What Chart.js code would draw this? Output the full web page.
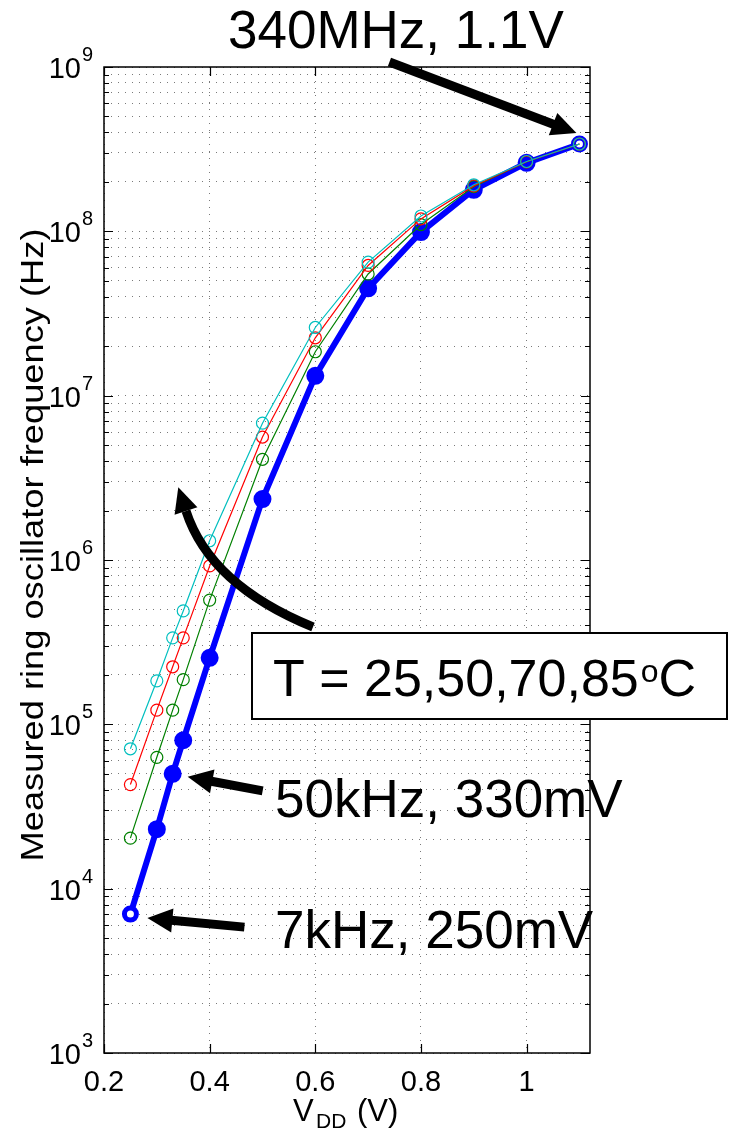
<!DOCTYPE html>
<html>
<head>
<meta charset="utf-8">
<script src="https://cdn.jsdelivr.net/npm/chart.js@4/dist/chart.umd.min.js"></script>
<style>
  html,body{margin:0;padding:0;background:#fff;}
  canvas{display:block;}
</style>
</head>
<body>
<canvas id="c" width="734" height="1131"></canvas>
<script>
/* ---- data ------------------------------------------------------------ */
const VDD = [0.25, 0.30, 0.33, 0.35, 0.40, 0.50, 0.60, 0.70, 0.80, 0.90, 1.00, 1.10];

// measured ring oscillator frequency, Hz
const FREQ_25C = [7.0e3, 2.3e4, 5.0e4, 8.0e4, 2.54e5, 2.35e6, 1.32e7, 4.5e7, 9.9e7, 1.79e8, 2.61e8, 3.4e8];
const FREQ_50C = [2.03e4, 6.3e4, 1.22e5, 1.87e5, 5.7e5, 4.1e6, 1.85e7, 5.5e7, 1.10e8, 1.87e8, 2.65e8, 3.4e8];
const FREQ_70C = [4.3e4, 1.22e5, 2.24e5, 3.36e5, 9.2e5, 5.6e6, 2.25e7, 6.2e7, 1.19e8, 1.89e8, 2.65e8, 3.4e8];
const FREQ_85C = [7.1e4, 1.84e5, 3.36e5, 4.9e5, 1.31e6, 6.8e6, 2.6e7, 6.5e7, 1.24e8, 1.92e8, 2.66e8, 3.4e8];

const X_TICKS = [0.2, 0.4, 0.6, 0.8, 1.0];
const X_TICK_LABELS = ["0.2", "0.4", "0.6", "0.8", "1"];
const Y_EXPONENTS = [3, 4, 5, 6, 7, 8, 9];
const Y_MINOR_STEPS = [2, 3, 4, 5, 6, 7, 8, 9];

const BLUE = "#0000ff", GREEN = "#008000", RED = "#ff0000", CYAN = "#00bfbf";
const FONT = "'Liberation Sans', Arial, sans-serif";

/* ---- helpers --------------------------------------------------------- */
const pts = ys => VDD.map((v, i) => ({x: v, y: ys[i]}));

function yTicks(){
  const t = [];
  Y_EXPONENTS.forEach((e, i) => {
    t.push({value: Math.pow(10, e), major: true});
    if(i < Y_EXPONENTS.length - 1)
      Y_MINOR_STEPS.forEach(m => t.push({value: m * Math.pow(10, e), major: false}));
  });
  return t;
}

function thin(color, ys, order){
  return {
    data: pts(ys), borderColor: color, borderWidth: 1.2,
    pointRadius: 6, pointBorderWidth: 1.2, pointBorderColor: color,
    pointBackgroundColor: "rgba(0,0,0,0)", tension: 0, order
  };
}

// first/last blue markers are rings, the rest are filled dots
const blueFill = VDD.map((v, i) => (i === 0 || i === VDD.length - 1) ? "#ffffff" : BLUE);
const blueRad  = VDD.map((v, i) => (i === 0 || i === VDD.length - 1) ? 6 : 7);
const blueBw   = VDD.map((v, i) => (i === 0 || i === VDD.length - 1) ? 5 : 4);

function arrow(ctx, x0, y0, x1, y1){
  const a = Math.atan2(y1 - y0, x1 - x0), L = 25, W = 12;
  const bx = x1 - L*Math.cos(a), by = y1 - L*Math.sin(a);
  ctx.lineWidth = 9;
  ctx.beginPath(); ctx.moveTo(x0, y0); ctx.lineTo(bx + Math.cos(a), by + Math.sin(a)); ctx.stroke();
  ctx.beginPath();
  ctx.moveTo(x1, y1);
  ctx.lineTo(bx + W*Math.sin(a), by - W*Math.cos(a));
  ctx.lineTo(bx - W*Math.sin(a), by + W*Math.cos(a));
  ctx.closePath(); ctx.fill();
}

function curvedArrow(ctx, x0, y0, cx, cy, x1, y1){
  const a = Math.atan2(y1 - cy, x1 - cx), L = 25, W = 12;
  const tx = x1 + L*Math.cos(a), ty = y1 + L*Math.sin(a);
  ctx.lineWidth = 9;
  ctx.beginPath(); ctx.moveTo(x0, y0); ctx.quadraticCurveTo(cx, cy, x1, y1); ctx.stroke();
  ctx.beginPath();
  ctx.moveTo(tx, ty);
  ctx.lineTo(x1 + W*Math.sin(a), y1 - W*Math.cos(a));
  ctx.lineTo(x1 - W*Math.sin(a), y1 + W*Math.cos(a));
  ctx.closePath(); ctx.fill();
}

/* ---- frame, tick marks, labels, annotations -------------------------- */
const figureText = {
  id: "figureText",
  afterDraw(chart){
    const ctx = chart.ctx, ca = chart.chartArea;
    const xs = chart.scales.x, ys = chart.scales.y;
    ctx.save();
    ctx.strokeStyle = "#000"; ctx.fillStyle = "#000";

    // box
    ctx.lineWidth = 1.5;
    ctx.strokeRect(ca.left, ca.top, ca.right - ca.left, ca.bottom - ca.top);

    // inward ticks
    ctx.lineWidth = 1.2;
    ctx.beginPath();
    X_TICKS.forEach(v => {
      const px = Math.round(xs.getPixelForValue(v)) + 0.5;
      ctx.moveTo(px, ca.bottom); ctx.lineTo(px, ca.bottom - 9);
      ctx.moveTo(px, ca.top); ctx.lineTo(px, ca.top + 9);
    });
    ys.ticks.forEach(t => {
      const py = Math.round(ys.getPixelForValue(t.value)) + 0.5, len = t.major ? 9 : 5;
      ctx.moveTo(ca.left, py); ctx.lineTo(ca.left + len, py);
      ctx.moveTo(ca.right, py); ctx.lineTo(ca.right - len, py);
    });
    ctx.stroke();

    // x tick labels
    ctx.font = "29px " + FONT;
    ctx.textAlign = "center"; ctx.textBaseline = "alphabetic";
    X_TICKS.forEach((v, i) => ctx.fillText(X_TICK_LABELS[i], xs.getPixelForValue(v), 1091));

    // y tick labels 10^n
    Y_EXPONENTS.forEach(e => {
      const py = ys.getPixelForValue(Math.pow(10, e));
      ctx.font = "29px " + FONT; ctx.textAlign = "right";
      ctx.fillText("10", 81, py + 11);
      ctx.font = "20px " + FONT; ctx.textAlign = "left";
      ctx.fillText(String(e), 82, py - 6);
    });

    // axis titles
    ctx.textAlign = "left";
    ctx.font = "31px " + FONT;
    ctx.fillText("V", 293, 1121);
    ctx.font = "21px " + FONT;
    ctx.fillText("DD", 316, 1128);
    ctx.font = "31px " + FONT;
    ctx.fillText("(V)", 357, 1121);

    ctx.save();
    ctx.translate(43, 545); ctx.rotate(-Math.PI/2); ctx.scale(1.17, 1);
    ctx.font = "31px " + FONT; ctx.textAlign = "center";
    ctx.fillText("Measured ring oscillator frequency (Hz)", 0, 0);
    ctx.restore();

    // annotations
    ctx.font = "53px " + FONT; ctx.textAlign = "left";
    ctx.fillText("340MHz, 1.1V", 228, 48);
    ctx.fillText("50kHz, 330mV", 275, 817);
    ctx.fillText("7kHz, 250mV", 275, 948);

    ctx.fillStyle = "#fff";
    ctx.fillRect(252, 633, 475, 86);
    ctx.fillStyle = "#000";
    ctx.lineWidth = 2;
    ctx.strokeRect(252, 633, 475, 86);
    ctx.font = "52px " + FONT;
    ctx.fillText("T = 25,50,70,85", 273, 696);
    const w = ctx.measureText("T = 25,50,70,85").width;
    ctx.font = "32px " + FONT;
    ctx.fillText("o", 273 + w + 2, 682);
    const wo = ctx.measureText("o").width;
    ctx.font = "52px " + FONT;
    ctx.fillText("C", 273 + w + 2 + wo, 696);

    // arrows pinned to the points they point at
    const px = (x, y) => [xs.getPixelForValue(x), ys.getPixelForValue(y)];
    let [ax, ay] = px(1.1, 3.4e8);
    arrow(ctx, ax - 190, ay - 82, ax - 3, ay - 11);
    [ax, ay] = px(0.33, 5.0e4);
    arrow(ctx, ax + 90, ay + 17, ax + 15, ay + 3);
    [ax, ay] = px(0.25, 7.0e3);
    arrow(ctx, ax + 114, ay + 13, ax + 17, ay + 4);
    curvedArrow(ctx, 313, 627, 210, 585, 186, 511);

    ctx.restore();
  }
};

/* ---- chart ----------------------------------------------------------- */
new Chart(document.getElementById("c"), {
  type: "line",
  data: {
    datasets: [
      thin(CYAN, FREQ_85C, 1),
      thin(RED, FREQ_70C, 2),
      thin(GREEN, FREQ_50C, 3),
      {
        data: pts(FREQ_25C), borderColor: BLUE, borderWidth: 6,
        pointRadius: blueRad, pointBorderWidth: blueBw, pointBorderColor: BLUE,
        pointBackgroundColor: blueFill, tension: 0, order: 4
      }
    ]
  },
  options: {
    responsive: false,
    animation: false,
    events: [],
    layout: {padding: {top: 67, right: 144, left: 0, bottom: 0}},
    plugins: {legend: {display: false}, tooltip: {enabled: false}},
    scales: {
      x: {
        type: "linear", min: 0.2, max: 1.12,
        afterBuildTicks: s => { s.ticks = X_TICKS.map(v => ({value: v})); },
        afterFit: s => { s.height = 78; },
        ticks: {display: false},
        grid: {color: "#7a7a7a", lineWidth: 1, drawTicks: false},
        border: {display: false, dash: [1, 6]}
      },
      y: {
        type: "logarithmic", min: 1e3, max: 1e9,
        afterBuildTicks: s => { s.ticks = yTicks(); },
        afterFit: s => { s.width = 104; },
        ticks: {display: false},
        grid: {color: "#7a7a7a", lineWidth: 1, drawTicks: false},
        border: {display: false, dash: [1, 6]}
      }
    }
  },
  plugins: [figureText]
});
</script>
</body>
</html>
